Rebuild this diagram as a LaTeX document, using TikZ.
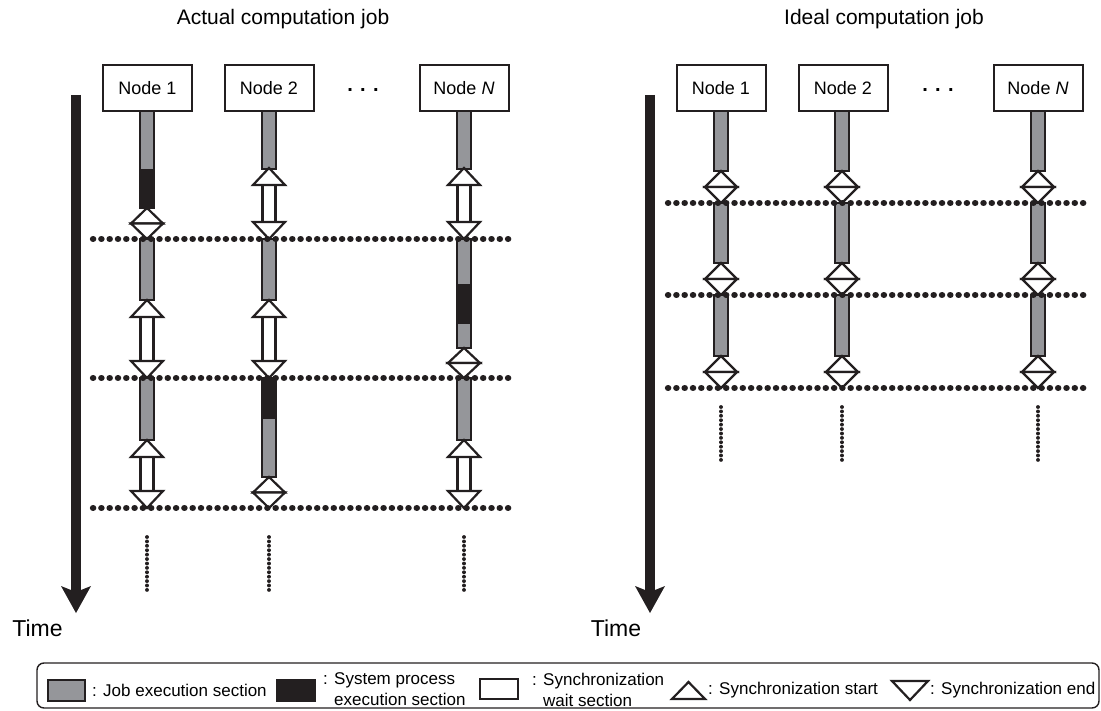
\documentclass[tikz,border=0pt]{standalone}
\usepackage{fontspec}
\setmainfont{Liberation Sans}
\usetikzlibrary{arrows.meta}
\definecolor{jobgray}{RGB}{149,150,154}
\definecolor{inkblack}{RGB}{35,31,32}
\tikzstyle{jobbar} = [draw=inkblack, fill=jobgray, line width=2.4pt]
\tikzstyle{sysbar} = [draw=inkblack, fill=inkblack, line width=2.4pt]
\tikzstyle{waitbar} = [draw=inkblack, fill=white, line width=2.2pt]
\tikzstyle{syncmark} = [draw=inkblack, fill=white, line width=2.2pt, line join=miter]
\tikzstyle{barrier} = [draw=inkblack, line width=6.3pt, line cap=round, dash pattern=on 0.2pt off 8.1pt]
\tikzstyle{moredots} = [draw=inkblack, line width=3.8pt, line cap=round, dash pattern=on 0.01pt off 4.4pt]
\tikzstyle{nodebox} = [draw=inkblack, line width=2pt, minimum width=89pt, minimum height=46pt, inner sep=0pt, font=\fontsize{18}{20}\selectfont]
\tikzstyle{titletext} = [anchor=base, font=\fontsize{21}{24}\selectfont]
\tikzstyle{timetext} = [font=\fontsize{23}{25}\selectfont]
\tikzstyle{timearrow} = [draw=inkblack, line width=10pt, -{Stealth[length=27pt,width=30pt,inset=6pt,line width=0pt]}]
\tikzstyle{legendtext} = [anchor=west, align=left, inner sep=0pt, font=\fontsize{17}{21}\selectfont]
\tikzstyle{legendkey} = [draw=inkblack, line width=2.4pt]

% one section of a node's time line: x, top, bottom
\newcommand{\jobsec}[3]{\draw[jobbar] ({#1-7},#2) rectangle ({#1+7},#3);}
\newcommand{\syssec}[3]{\draw[sysbar] ({#1-7},#2) rectangle ({#1+7},#3);}
\newcommand{\syncwait}[3]{%
  \draw[waitbar] ({#1-6.5},{#2+16}) rectangle ({#1+6.5},{#3-16});
  \draw[syncmark] (#1,#2) -- ({#1+16},{#2+17}) -- ({#1-16},{#2+17}) -- cycle;
  \draw[syncmark] ({#1-16},{#3-17}) -- ({#1+16},{#3-17}) -- (#1,#3) -- cycle;}
\newcommand{\syncnow}[3]{%
  \draw[syncmark] (#1,#2) -- ({#1+16},{(#2+#3)/2}) -- ({#1-16},{(#2+#3)/2}) -- cycle;
  \draw[syncmark] ({#1-16},{(#2+#3)/2}) -- ({#1+16},{(#2+#3)/2}) -- (#1,#3) -- cycle;}

\begin{document}
\begin{tikzpicture}[x=1pt,y=-1pt]
\useasboundingbox (0,0) rectangle (1101,711);

\node[titletext] (titleL) at (283,25) {Actual computation job};
\node[titletext] (titleR) at (884,25) {Ideal computation job};

% time axes
\coordinate (tTopL) at (76,95);
\coordinate (tTipL) at (76,613);
\coordinate (tTopR) at (650,95);
\coordinate (tTipR) at (650,613);
\draw[timearrow] (tTopL) -- (tTipL);
\draw[timearrow] (tTopR) -- (tTipR);
\node[timetext] (timeL) at (37.5,628) {Time};
\node[timetext] (timeR) at (616,628) {Time};

%%% actual job
\node[nodebox] (n1L) at (147.5,88) {Node 1};
\node[nodebox] (n2L) at (269,88) {Node 2};
\node[nodebox] (nNL) at (464,88) {Node \textit{N}};
\node[font=\bfseries\fontsize{20}{20}\selectfont] (dotsL) at (363,90) {. . .};

% node 1
\jobsec{147}{111}{170}
\syssec{147}{170}{208}
\syncnow{147}{208}{239}
\jobsec{147}{239}{300}
\syncwait{147}{300}{378}
\jobsec{147}{378}{440}
\syncwait{147}{440}{508}

% node 2
\jobsec{269}{111}{169}
\syncwait{269}{168}{239}
\jobsec{269}{239}{300}
\syncwait{269}{300}{378}
\syssec{269}{378}{418}
\jobsec{269}{418}{477}
\syncnow{269}{477}{508}

% node N
\jobsec{464}{111}{169}
\syncwait{464}{168}{239}
\jobsec{464}{239}{285}
\syssec{464}{285}{323}
\jobsec{464}{323}{348}
\syncnow{464}{348}{378}
\jobsec{464}{378}{440}
\syncwait{464}{440}{508}

\foreach \y in {239,378,508} {
	\draw[barrier] (93,\y) -- (515,\y);
}
\foreach \x in {147,269,464} {
	\draw[moredots] (\x,537) -- (\x,593);
}

%%% ideal job
\node[nodebox] (n1R) at (721,88) {Node 1};
\node[nodebox] (n2R) at (843,88) {Node 2};
\node[nodebox] (nNR) at (1038,88) {Node \textit{N}};
\node[font=\bfseries\fontsize{20}{20}\selectfont] (dotsR) at (938,90) {. . .};

\foreach \x in {721,842,1038} {
	\jobsec{\x}{111}{171}
	\syncnow{\x}{171}{203}
	\jobsec{\x}{203}{263}
	\syncnow{\x}{263}{295}
	\jobsec{\x}{295}{356}
	\syncnow{\x}{356}{388}
	\draw[moredots] (\x,407) -- (\x,462);
}
\foreach \y in {203,295,388} {
	\draw[barrier] (668,\y) -- (1087,\y);
}

%%% legend
\draw[inkblack, line width=1.4pt, rounded corners=7pt] (37,663) rectangle (1099,708);
\draw[legendkey, fill=jobgray] (48,680) rectangle (85,701);
\node[legendtext] (lgJob) at (92,690) {: Job execution section};
\draw[legendkey, fill=inkblack] (277,680) rectangle (315,701);
\node[legendtext] (lgSys) at (323,689.5) {: System process\\\hphantom{: }execution section};
\draw[legendkey, fill=white] (480,679) rectangle (518,699);
\node[legendtext] (lgWait) at (532,689.5) {: Synchronization\\\hphantom{: }wait section};
\draw[syncmark] (688.5,682) -- (705,699) -- (672,699) -- cycle;
\node[legendtext] (lgStart) at (708,690) {: Synchronization start};
\draw[syncmark] (892,681) -- (928,681) -- (910,700) -- cycle;
\node[legendtext] (lgEnd) at (930,690) {: Synchronization end};
\end{tikzpicture}
\end{document}
